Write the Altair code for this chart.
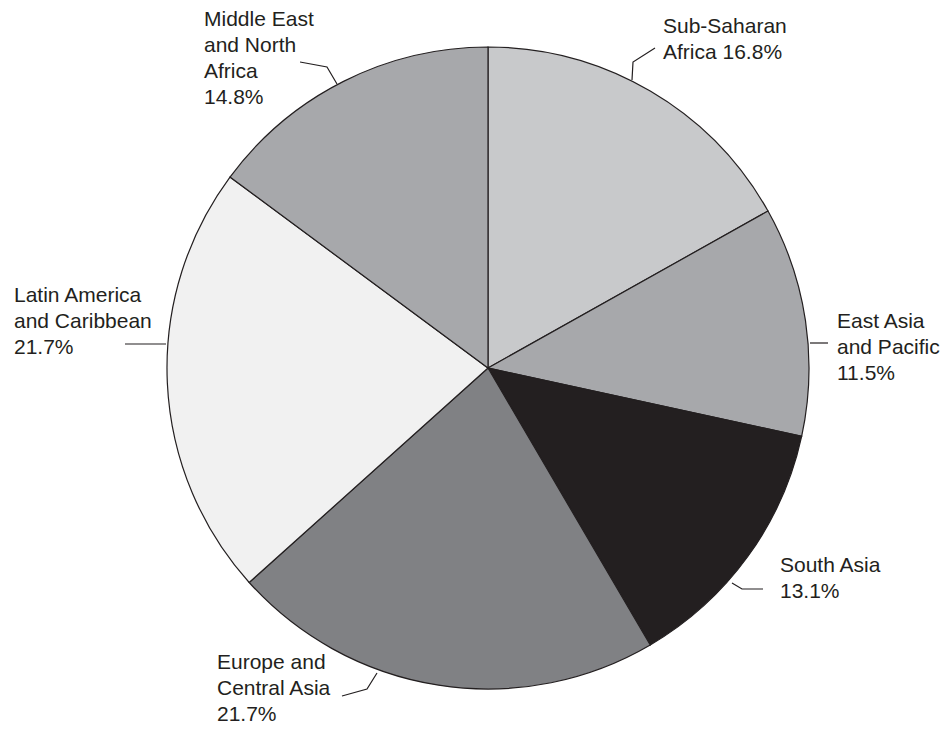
import altair as alt
import pandas as pd

# ---- data ----
regions = [
    "Sub-Saharan Africa",
    "East Asia and Pacific",
    "South Asia",
    "Europe and Central Asia",
    "Latin America and Caribbean",
    "Middle East and North Africa",
]
shares = [16.8, 11.5, 13.1, 21.7, 21.7, 14.8]

# label wrapping (text only)
label_names = [
    "Sub-Saharan\nAfrica",
    "East Asia\nand Pacific",
    "South Asia",
    "Europe and\nCentral Asia",
    "Latin America\nand Caribbean",
    "Middle East\nand North\nAfrica",
]
value_seps = [" ", "\n", "\n", "\n", "\n", "\n"]

# ---- styles / layout ----
fills = ["#c8c9cb", "#a7a8ab", "#231f20", "#808184", "#f1f1f1", "#a7a8ab"]
INK = "#231f20"
W, H = 935, 719
CX, CY, R = 480, 360, 321

# label anchor (first baseline, left edge) in page px
label_pos = [(663, 33), (837, 328), (780, 572), (217, 669), (14, 302), (204, 26)]
# leader polylines in page px
leader_pts = [
    [(632, 80), (633, 62), (655, 48)],
    [(810, 343), (828, 343)],
    [(732, 583), (742, 589), (763, 589)],
    [(377, 673), (367, 689), (342, 696)],
    [(125, 344), (166, 344)],
    [(300, 62), (327, 67), (337, 84)],
]

pie_df = pd.DataFrame({"region": regions, "share": shares, "order": list(range(len(regions)))})

lab_df = pd.DataFrame({
    "region": regions,
    "label": [n + s + f"{v}%" for n, s, v in zip(label_names, value_seps, shares)],
    "x": [p[0] - 8 for p in label_pos],
    "y": [p[1] - 8 for p in label_pos],
})

rows = []
for i, pts in enumerate(leader_pts):
    for j, (px, py) in enumerate(pts):
        rows.append({"lid": regions[i], "seq": j, "x": px - 8, "y": py - 8})
lead_df = pd.DataFrame(rows)

xs = alt.Scale(domain=[0, W], nice=False, zero=False)
ys = alt.Scale(domain=[H, 0], nice=False, zero=False)

pie = alt.Chart(pie_df).mark_arc(
    x=CX, y=CY, outerRadius=R, stroke=INK, strokeWidth=1.2
).encode(
    theta=alt.Theta("share:Q", stack=True),
    order=alt.Order("order:Q"),
    color=alt.Color("region:N", scale=alt.Scale(domain=regions, range=fills), legend=None),
)

leaders = alt.Chart(lead_df).mark_line(color=INK, strokeWidth=1.2).encode(
    x=alt.X("x:Q", scale=xs, axis=None),
    y=alt.Y("y:Q", scale=ys, axis=None),
    detail="lid:N",
    order="seq:Q",
)

labels = alt.Chart(lab_df).mark_text(
    align="left", baseline="alphabetic", fontSize=21, lineHeight=26,
    font="Liberation Sans", color=INK, lineBreak="\n",
).encode(
    x=alt.X("x:Q", scale=xs, axis=None),
    y=alt.Y("y:Q", scale=ys, axis=None),
    text="label:N",
)

chart = alt.layer(pie, leaders, labels).properties(
    width=W, height=H, padding=0, autosize="none", background="white"
).configure_view(stroke=None)

chart.save("out.html", embed_options={"renderer": "svg", "actions": False})
